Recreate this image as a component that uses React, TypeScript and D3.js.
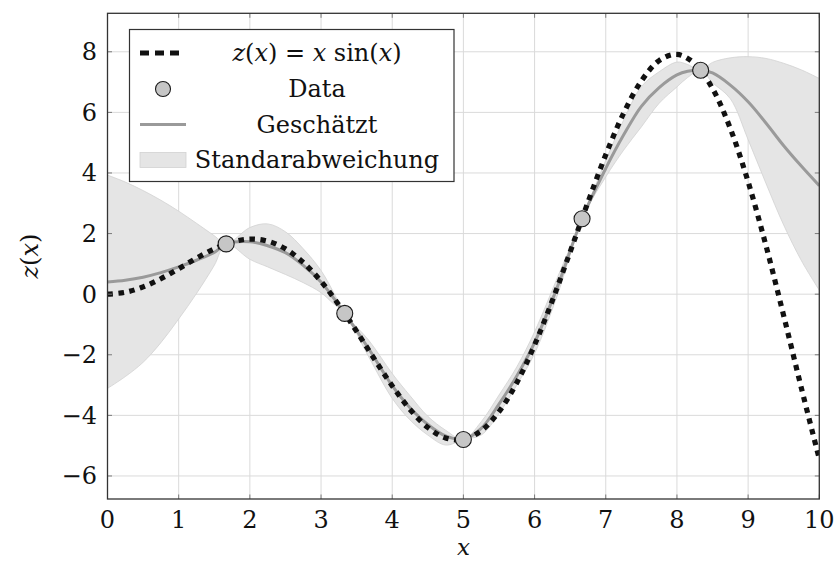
import React from "react";
import * as d3 from "d3";

// True function samples z(x) = x sin(x)
const trueX = [0,0.25,0.5,0.75,1,1.25,1.5,1.75,2,2.25,2.5,2.75,3,3.25,3.5,3.75,4,4.25,4.5,4.75,5,5.25,5.5,5.75,6,6.25,6.5,6.75,7,7.25,7.5,7.75,8,8.25,8.5,8.75,9,9.25,9.5,9.75,10];
const trueZ = [0,0.062,0.240,0.511,0.841,1.186,1.496,1.722,1.819,1.751,1.496,1.050,0.423,-0.352,-1.228,-2.144,-3.027,-3.804,-4.399,-4.747,-4.795,-4.509,-3.880,-2.925,-1.676,-0.207,1.398,3.037,4.599,5.969,7.035,7.708,7.915,7.609,6.787,5.468,3.709,1.609,-0.714,-3.115,-5.440];

// Observed data points
const dataX = [1.667,3.333,5.0,6.667,8.333];
const dataZ = [1.66,-0.635,-4.795,2.49,7.39];

// Estimated mean and band (mean +/- one standard deviation)
const gpX = [0,0.25,0.5,0.75,1,1.25,1.5,1.667,2,2.25,2.5,2.75,3,3.167,3.333,3.67,4,4.25,4.5,4.75,5,5.25,5.5,5.75,6,6.33,6.667,7,7.25,7.5,7.75,8,8.15,8.333,8.5,8.75,9,9.25,9.5,9.75,10];
const gpMean = [0.40,0.46,0.56,0.71,0.90,1.12,1.38,1.66,1.73,1.6,1.37,0.95,0.4,-0.1,-0.635,-1.8,-3.02,-3.75,-4.3,-4.68,-4.795,-4.43,-3.63,-2.7,-1.6,0.3,2.49,4.15,5.25,6.2,6.82,7.24,7.36,7.39,7.3,6.9,6.35,5.65,4.9,4.22,3.58];
const gpUpper = [3.93,3.7,3.42,3.1,2.74,2.34,1.93,1.66,2.2,2.32,2.06,1.5,0.78,0.1,-0.635,-1.52,-2.62,-3.35,-4.03,-4.49,-4.795,-4.21,-3.33,-2.4,-1.24,0.6,2.49,4.42,5.74,6.85,7.34,7.66,7.58,7.39,7.65,7.8,7.84,7.78,7.62,7.4,7.12];
const gpLower = [-3.11,-2.72,-2.25,-1.6,-0.82,0.02,0.95,1.66,1.15,0.9,0.65,0.38,0.05,-0.3,-0.635,-2.07,-3.44,-4.15,-4.65,-4.98,-4.795,-4.65,-3.94,-3.0,-1.96,0.03,2.49,3.87,4.75,5.52,6.3,6.84,7.15,7.39,6.98,6.45,5.1,3.66,2.28,1.1,0.13];

const xTicks = [0,1,2,3,4,5,6,7,8,9,10];
const yTicks = [-6,-4,-2,0,2,4,6,8];

const legendLabels = ["Data", "Geschätzt", "Standarabweichung"];

const W = 834, H = 561;
const L = 107.5, R = 819.3, T = 13.3, B = 499;
const FONT = "'DejaVu Serif', serif";

export default function App() {
  const x = d3.scaleLinear().domain([0, 10]).range([L, R]);
  const y = d3.scaleLinear().domain([-6.76, 9.27]).range([B, T]);

  const curve = d3.curveCatmullRom.alpha(0.5);
  const band = d3.area<number>()
    .x((_, i) => x(gpX[i]))
    .y0((_, i) => y(gpLower[i]))
    .y1((_, i) => y(gpUpper[i]))
    .curve(curve)(gpX);
  const bandUpper = d3.line<number>().x((_, i) => x(gpX[i])).y((_, i) => y(gpUpper[i])).curve(curve)(gpX);
  const bandLower = d3.line<number>().x((_, i) => x(gpX[i])).y((_, i) => y(gpLower[i])).curve(curve)(gpX);
  const meanLine = d3.line<number>().x((_, i) => x(gpX[i])).y((_, i) => y(gpMean[i])).curve(curve)(gpX);
  const trueLine = d3.line<number>().x((_, i) => x(trueX[i])).y((_, i) => y(trueZ[i])).curve(curve)(trueX);

  const fmt = (v: number) => (v < 0 ? "\u2212" + Math.abs(v) : String(v));

  const legX = 129.5, legY = 29.5, legW = 324.5, legH = 152;
  const rowY = [53, 89, 124.5, 160];
  const symX0 = 140, symX1 = 186, textCX = 317;
  const fs = 24;

  return (
    <svg width={W} height={H} style={{ position: "absolute", left: 0, top: 0, background: "#fff", fontFamily: FONT }}>
      <defs>
        <clipPath id="plot">
          <rect x={L} y={T} width={R - L} height={B - T} />
        </clipPath>
      </defs>
      <rect x={0} y={0} width={W} height={H} fill="#fff" />
      {/* grid */}
      <g stroke="#dadada" strokeWidth={1}>
        {xTicks.map((t) => (
          <line key={"gx" + t} x1={x(t)} x2={x(t)} y1={T} y2={B} />
        ))}
        {yTicks.map((t) => (
          <line key={"gy" + t} x1={L} x2={R} y1={y(t)} y2={y(t)} />
        ))}
      </g>
      <g clipPath="url(#plot)">
        <path d={band || ""} fill="#e5e5e5" stroke="none" />
        <path d={bandUpper || ""} fill="none" stroke="#d2d2d2" strokeWidth={0.8} />
        <path d={bandLower || ""} fill="none" stroke="#d2d2d2" strokeWidth={0.8} />
        <path d={meanLine || ""} fill="none" stroke="#9a9a9a" strokeWidth={3} />
        <path d={trueLine || ""} fill="none" stroke="#111" strokeWidth={5.2} strokeDasharray="5.5 5.5" />
      </g>
      {dataX.map((d, i) => (
        <circle key={"pt" + i} cx={x(d)} cy={y(dataZ[i])} r={8} fill="#c6c6c6" stroke="#1a1a1a" strokeWidth={1.1} />
      ))}
      {/* ticks */}
      <g stroke="#7a7a7a" strokeWidth={1}>
        {xTicks.map((t) => (
          <g key={"tx" + t}>
            <line x1={x(t)} x2={x(t)} y1={B} y2={B - 4.5} />
            <line x1={x(t)} x2={x(t)} y1={T} y2={T + 4.5} />
          </g>
        ))}
        {yTicks.map((t) => (
          <g key={"ty" + t}>
            <line x1={L} x2={L + 4.5} y1={y(t)} y2={y(t)} />
            <line x1={R} x2={R - 4.5} y1={y(t)} y2={y(t)} />
          </g>
        ))}
      </g>
      <rect x={L} y={T} width={R - L} height={B - T} fill="none" stroke="#333" strokeWidth={1.3} />
      {/* tick labels */}
      <g fontSize={fs} fill="#111" style={{ fontFamily: FONT }}>
        {xTicks.map((t) => (
          <text key={"lx" + t} x={x(t)} y={528} textAnchor="middle">{fmt(t)}</text>
        ))}
        {yTicks.map((t) => (
          <text key={"ly" + t} x={97} y={y(t) + 8.5} textAnchor="end">{fmt(t)}</text>
        ))}
      </g>
      {/* axis labels */}
      <text x={(L + R) / 2} y={555} textAnchor="middle" fontSize={23} fontStyle="italic" fill="#111" style={{ fontFamily: FONT }}>x</text>
      <text transform={`translate(38, ${(T + B) / 2}) rotate(-90)`} textAnchor="middle" fontSize={fs} fill="#111" style={{ fontFamily: FONT }}>
        <tspan fontStyle="italic">z</tspan>(<tspan fontStyle="italic">x</tspan>)
      </text>
      {/* legend */}
      <rect x={legX} y={legY} width={legW} height={legH} fill="#fff" stroke="#333" strokeWidth={1.2} />
      <line x1={symX0} x2={180} y1={rowY[0]} y2={rowY[0]} stroke="#111" strokeWidth={5.2} strokeDasharray="9 6" />
      <circle cx={(symX0 + symX1) / 2} cy={rowY[1]} r={7.5} fill="#c6c6c6" stroke="#1a1a1a" strokeWidth={1.1} />
      <line x1={symX0} x2={symX1} y1={rowY[2]} y2={rowY[2]} stroke="#9a9a9a" strokeWidth={3} />
      <rect x={symX0} y={rowY[3] - 7.5} width={symX1 - symX0} height={15} fill="#e5e5e5" stroke="#d2d2d2" strokeWidth={0.8} />
      <g fontSize={fs} fill="#111" textAnchor="middle" style={{ fontFamily: FONT }}>
        <text x={textCX} y={rowY[0] + 8}>
          <tspan fontStyle="italic">z</tspan>(<tspan fontStyle="italic">x</tspan>) = <tspan fontStyle="italic">x</tspan> sin(<tspan fontStyle="italic">x</tspan>)
        </text>
        <text x={textCX} y={rowY[1] + 8}>{legendLabels[0]}</text>
        <text x={textCX} y={rowY[2] + 8}>{legendLabels[1]}</text>
        <text x={textCX} y={rowY[3] + 8}>{legendLabels[2]}</text>
      </g>
    </svg>
  );
}
